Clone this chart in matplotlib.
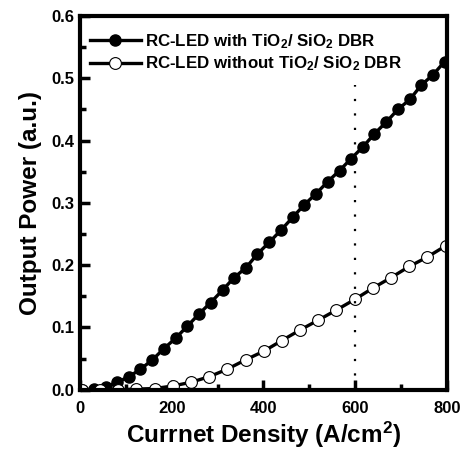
import matplotlib
matplotlib.use("Agg")
import matplotlib.pyplot as plt
from matplotlib.ticker import MultipleLocator

plt.rcParams['font.family'] = ['Liberation Sans', 'DejaVu Sans']
plt.rcParams['font.weight'] = 'bold'
plt.rcParams['mathtext.default'] = 'regular'

# RC-LED with DBR (filled circles)
x_dbr = [5, 30, 56, 81, 107, 132, 158, 183, 209, 234, 260, 285, 311, 336, 362, 387,
         413, 438, 464, 489, 515, 540, 566, 591, 617, 642, 668, 693, 719, 744, 770, 795]
p_dbr = [0.000, 0.001, 0.004, 0.012, 0.021, 0.033, 0.048, 0.066, 0.083, 0.102, 0.122,
         0.140, 0.160, 0.180, 0.196, 0.218, 0.237, 0.256, 0.277, 0.297, 0.315, 0.334,
         0.352, 0.371, 0.390, 0.411, 0.430, 0.450, 0.466, 0.489, 0.506, 0.527]

# RC-LED without DBR (open circles)
x_ref = [4, 44, 83, 123, 163, 202, 242, 282, 321, 361, 401, 440, 480, 520, 559, 599,
         638, 678, 718, 757, 797]
p_ref = [0.000, 0.000, 0.000, 0.001, 0.002, 0.006, 0.012, 0.021, 0.033, 0.048, 0.062,
         0.079, 0.096, 0.112, 0.128, 0.145, 0.163, 0.180, 0.198, 0.213, 0.231]

x_mark = 600
y_mark_top = 0.49

fig = plt.figure(figsize=(4.7, 4.58), dpi=100)
ax = fig.add_axes([0.170, 0.149, 0.781, 0.816])

ax.plot(x_dbr, p_dbr, color='black', lw=2.4, marker='o', ms=8,
        mfc='black', mec='black', label=r'RC-LED with TiO$_2$/ SiO$_2$ DBR')
ax.plot(x_ref, p_ref, color='black', lw=2.4, marker='o', ms=8.5,
        mfc='white', mec='black', mew=0.8, label=r'RC-LED without TiO$_2$/ SiO$_2$ DBR')
ax.plot([x_mark, x_mark], [0, y_mark_top], color='black', lw=1.6, ls=(0, (1, 5.5)))

ax.set_xlim(0, 800)
ax.set_ylim(0, 0.6)
ax.xaxis.set_major_locator(MultipleLocator(200))
ax.xaxis.set_minor_locator(MultipleLocator(100))
ax.yaxis.set_major_locator(MultipleLocator(0.1))
ax.yaxis.set_minor_locator(MultipleLocator(0.05))
ax.yaxis.set_major_formatter(plt.FormatStrFormatter('%.1f'))

ax.tick_params(which='both', direction='in', top=False, right=False, width=2.5,
               labelsize=12)
ax.tick_params(which='major', length=7)
ax.tick_params(which='minor', length=4)
ax.tick_params(axis='x', pad=8)
ax.tick_params(axis='y', pad=4)
for s in ax.spines.values():
    s.set_linewidth(3)

ax.set_xlabel(r'Currnet Density (A/cm$^2$)', fontsize=17.5, fontweight='bold', labelpad=3)
ax.set_ylabel('Output Power (a.u.)', fontsize=17.5, fontweight='bold', labelpad=7)

ax.legend(loc='upper left', bbox_to_anchor=(0.0, 0.985), frameon=False, handlelength=3,
          handletextpad=0.25, borderaxespad=0.2, labelspacing=0.25,
          prop={'weight': 'bold', 'size': 12.2})

fig.savefig('out.png', dpi=100)
